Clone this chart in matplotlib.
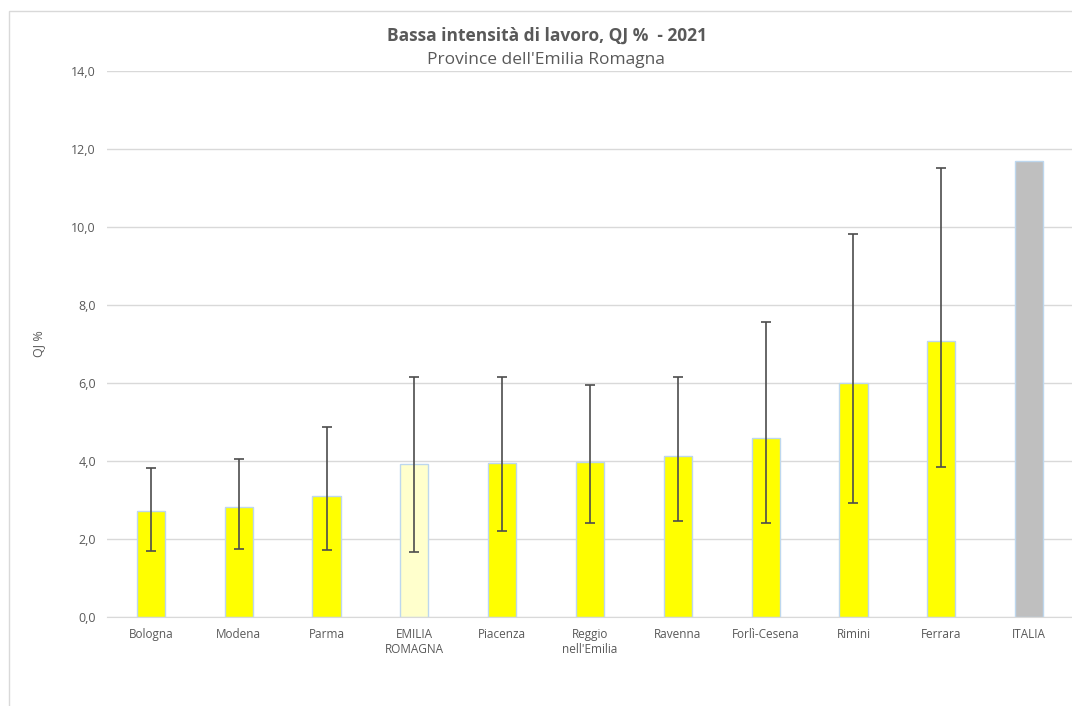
import matplotlib.pyplot as plt
import numpy as np
from matplotlib.ticker import FuncFormatter
from matplotlib.patches import Rectangle

# data
labels = ["Bologna", "Modena", "Parma", "EMILIA\nROMAGNA", "Piacenza",
          "Reggio\nnell'Emilia", "Ravenna", "Forlì-Cesena", "Rimini", "Ferrara", "ITALIA"]
values = [2.71, 2.83, 3.11, 3.92, 3.94, 3.97, 4.14, 4.60, 5.99, 7.07, 11.70]
ci_low = [1.69, 1.75, 1.72, 1.67, 2.21, 2.42, 2.47, 2.40, 2.92, 3.85, np.nan]
ci_high = [3.82, 4.04, 4.86, 6.15, 6.16, 5.95, 6.16, 7.56, 9.83, 11.51, np.nan]

colors = ["#FFFF00"] * 11
colors[3] = "#FFFFCC"
colors[10] = "#BFBFBF"

txt = "#595959"
plt.rcParams['font.family'] = ['Open Sans', 'DejaVu Sans']

fig = plt.figure(figsize=(10.72, 7.06), dpi=100)
fig.patches.append(Rectangle((9/1072, -0.1), 2, 1.1 - 11/706, transform=fig.transFigure,
                             fill=False, edgecolor="#d9d9d9", linewidth=1))
ax = fig.add_axes([107/1072, 89/706, 966/1072, 546/706])

x = np.arange(len(labels))
v = np.array(values)
yerr = [v - np.array(ci_low), np.array(ci_high) - v]

ax.bar(x, v, width=0.32, color=colors, edgecolor="#BDD7EE", linewidth=1, zorder=2)
ax.errorbar(x, v, yerr=yerr, fmt="none", ecolor="#4d4d4d", elinewidth=1.2,
            capsize=3.5, capthick=1.2, zorder=3)

ax.set_xlim(-0.5, 10.5)
ax.set_ylim(0, 14)
ax.set_yticks(np.arange(0, 15, 2))
ax.yaxis.set_major_formatter(FuncFormatter(lambda y, p: f"{y:.1f}".replace(".", ",")))
ax.grid(axis="y", color="#d9d9d9", linewidth=1, zorder=0)
ax.set_axisbelow(True)
for s in ["top", "right", "left"]:
    ax.spines[s].set_visible(False)
ax.spines["bottom"].set_color("#d9d9d9")
ax.tick_params(axis="y", length=0, pad=8, labelsize=9, labelcolor=txt)
ax.tick_params(axis="x", length=0, pad=8, labelsize=8.5, labelcolor=txt)
ax.set_xticks(x)
ax.set_xticklabels(labels)

ax.set_ylabel("QJ %", fontsize=9, color=txt, labelpad=19)

fig.text(547/1072, 1 - 36/706, "Bassa intensità di lavoro, QJ %  - 2021", ha="center", va="center",
         fontsize=12.5, fontweight="bold", color=txt)
fig.text(546/1072, 1 - 60/706, "Province dell'Emilia Romagna", ha="center", va="center",
         fontsize=12.5, color=txt)

fig.savefig("out.png", dpi=100)
